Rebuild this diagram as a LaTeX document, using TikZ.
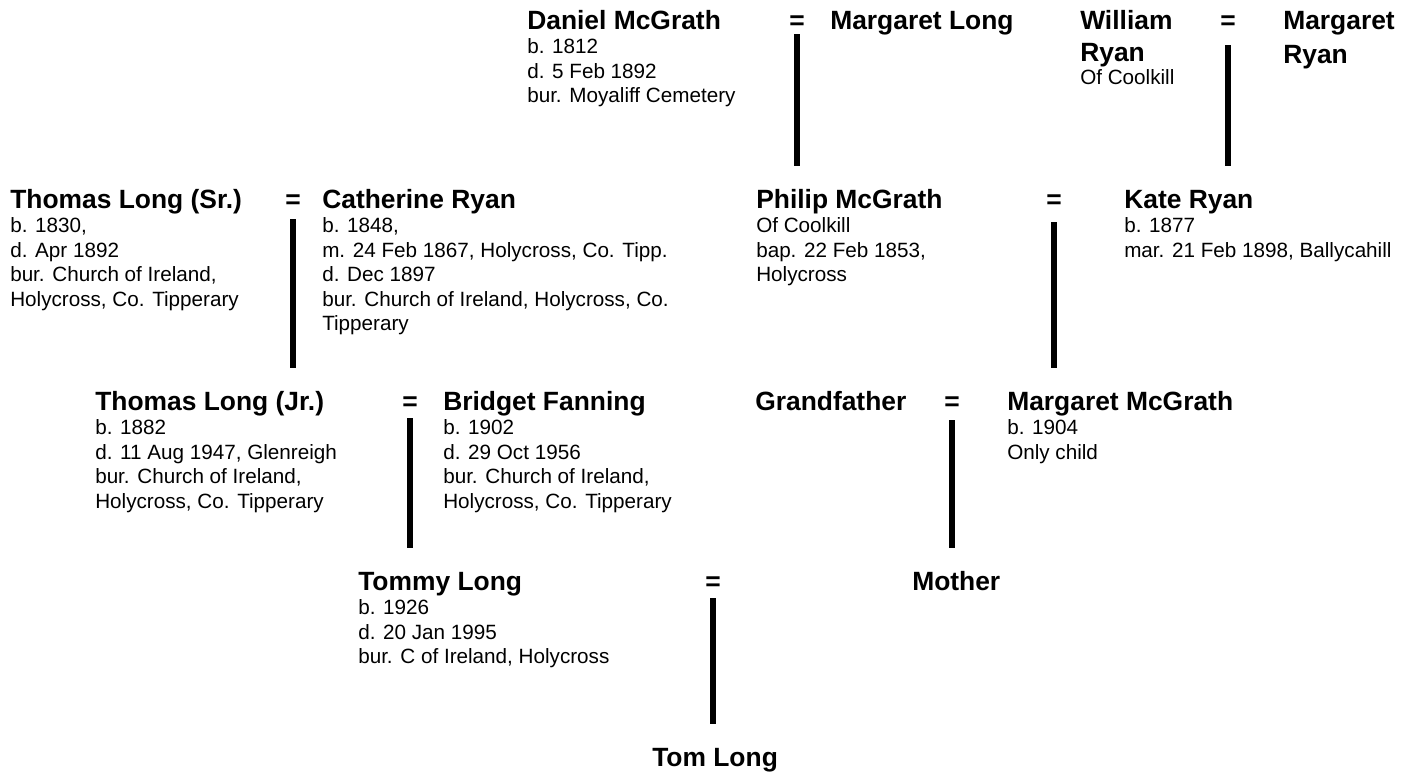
\documentclass[tikz,border=0pt]{standalone}
\usepackage{fontspec}
\setmainfont{Liberation Sans}
\newcommand\nmfont{\fontsize{19.8}{23}\selectfont\bfseries}
\newcommand\dtfont{\fontsize{15.5}{18.4}\selectfont}
\newcommand\nm[1]{{\nmfont\rule{0pt}{15pt}#1}}
\begin{document}
\begin{tikzpicture}[x=0.75pt,y=-0.75pt,
  person/.style={anchor=north west,inner sep=0pt,align=left,font=\dtfont},
  marr/.style={anchor=base,inner sep=0pt,font=\nmfont},
  descent/.style={line width=4.5pt,shorten >=16.5pt}]
\path[use as bounding box] (0,0) rectangle (1414,776);
% row A (name baseline 29 -> top 9)
\node[person] (dmg) at (527,9) {\nm{Daniel McGrath}\\b. 1812\\d. 5 Feb 1892\\bur. Moyaliff Cemetery};
\node[marr] (eA) at (797,29) {=};
\node[person] (mlg) at (830,9) {\nm{Margaret Long}};
\node[person] (wry) at (1080,9) {\nm{William}\\[5.6pt]\nm{Ryan}\\[-1pt]Of Coolkill};
\node[marr] (eB) at (1228,29) {=};
\node[person] (mry) at (1283,9) {\nm{Margaret}\\[5.6pt]\nm{Ryan}};
% row B (baseline 208)
\node[person] (tls) at (10,188) {\nm{Thomas Long (Sr.)}\\b. 1830,\\d. Apr 1892\\bur. Church of Ireland,\\Holycross, Co. Tipperary};
\node[marr] (eC) at (293,208) {=};
\node[person] (cry) at (322,188) {\nm{Catherine Ryan}\\b. 1848,\\m. 24 Feb 1867, Holycross, Co. Tipp.\\d. Dec 1897\\bur. Church of Ireland, Holycross, Co.\\Tipperary};
\node[person] (pmg) at (756,188) {\nm{Philip McGrath}\\Of Coolkill\\bap. 22 Feb 1853,\\Holycross};
\node[marr] (eD) at (1054,208) {=};
\node[person] (kry) at (1124,188) {\nm{Kate Ryan}\\b. 1877\\mar. 21 Feb 1898, Ballycahill};
% row C (baseline 410)
\node[person] (tlj) at (95,390) {\nm{Thomas Long (Jr.)}\\b. 1882\\d. 11 Aug 1947, Glenreigh\\bur. Church of Ireland,\\Holycross, Co. Tipperary};
\node[marr] (eE) at (410,410) {=};
\node[person] (bfn) at (443,390) {\nm{Bridget Fanning}\\b. 1902\\d. 29 Oct 1956\\bur. Church of Ireland,\\Holycross, Co. Tipperary};
\node[person] (gfa) at (755,390) {\nm{Grandfather}};
\node[marr] (eF) at (952,410) {=};
\node[person] (mmg) at (1007,390) {\nm{Margaret McGrath}\\b. 1904\\Only child};
% row D (baseline 590)
\node[person] (tmy) at (358,570) {\nm{Tommy Long}\\b. 1926\\d. 20 Jan 1995\\bur. C of Ireland, Holycross};
\node[marr] (eG) at (713,590) {=};
\node[person] (mth) at (912,570) {\nm{Mother}};
% row E (baseline 766)
\node[person] (tom) at (652,746) {\nm{Tom Long}};
% descent lines
\draw[descent] ([yshift=-3.75pt]eA.base) -- (eA.base |- pmg.north);
\draw[descent] ([yshift=-12pt]eB.base) -- (eB.base |- kry.north);
\draw[descent] ([yshift=-8.25pt]eC.base) -- (eC.base |- tlj.north);
\draw[descent] ([yshift=-10.5pt]eD.base) -- (eD.base |- mmg.north);
\draw[descent] ([yshift=-6pt]eE.base) -- (eE.base |- tmy.north);
\draw[descent] ([yshift=-7.5pt]eF.base) -- (eF.base |- mth.north);
\draw[descent] ([yshift=-6pt]eG.base) -- (eG.base |- tom.north);
\end{tikzpicture}
\end{document}
